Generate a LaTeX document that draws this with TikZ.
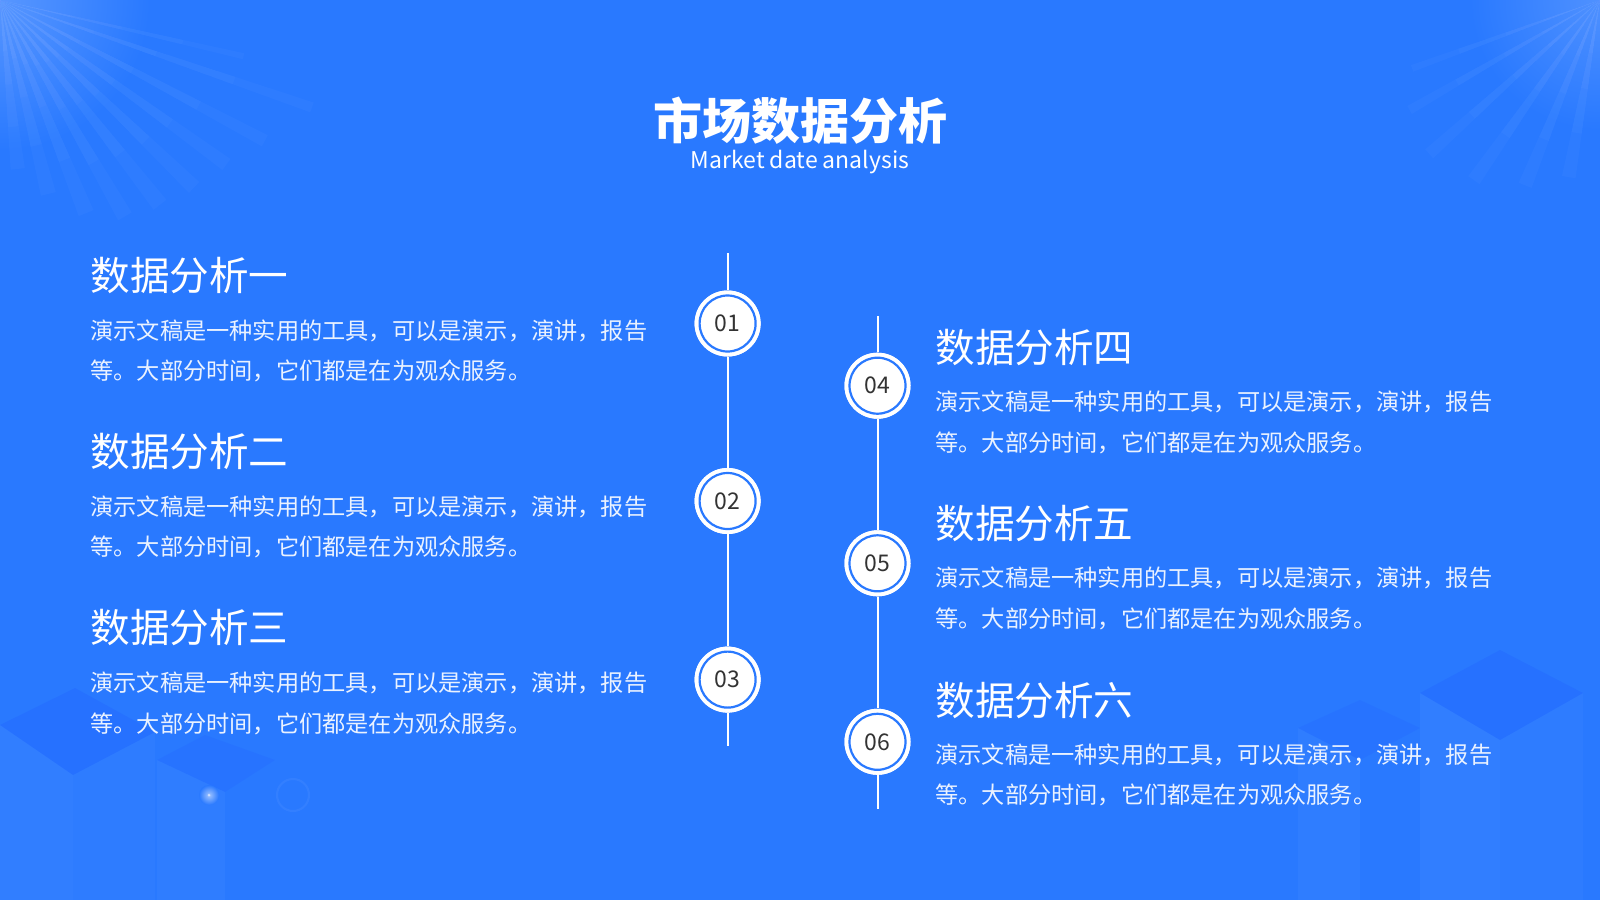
\documentclass[tikz,border=0pt]{standalone}
\usepackage{fontspec}
\setmainfont{Noto Sans CJK SC}
\newfontfamily\cjk{Noto Sans CJK SC}
\definecolor{bg}{HTML}{2979FF}
\definecolor{bodytxt}{HTML}{EAF2FF}
\definecolor{numtxt}{HTML}{333333}
\tikzset{
  ttl/.style={anchor=west,inner sep=0pt,text=white,font=\cjk\fontsize{19.8}{24}\selectfont},
  bodyblk/.style={anchor=west,inner sep=0pt,text=bodytxt,align=left,font=\cjk\fontsize{11.6}{20.4}\selectfont},
  numdot/.style={circle,fill=white,minimum size=33pt,inner sep=0pt},
  numring/.style={circle,draw=bg,line width=1.1pt,fill=white,minimum size=28pt,inner sep=0pt,text=numtxt,font=\cjk\fontsize{11.5}{12}\selectfont},
  axis/.style={draw=white,line width=1pt},
  ray/.style={fill=white,opacity=0.025},
}
\begin{document}
\begin{tikzpicture}[x=0.5pt,y=-0.5pt]
\fill[bg] (0,0) rectangle (1600,900);
\useasboundingbox (0,0) rectangle (1600,900);
% corner glows
\shade[inner color=bg!78!white,outer color=bg] (0,0) circle (150);
\shade[inner color=bg!82!white,outer color=bg] (1600,0) circle (130);
% rays top-left
\foreach \a/\l/\w in {19/330/0.9,28/300/1.2,36/280/1.4,44/270/1.6,52/260/1.8,60/250/1.8,68/230/2,76/200/2.2,84/170/2.4,13/250/0.7}{
  \foreach \f in {1,0.75,0.5,0.3}{
    \fill[ray] (0,0) -- ({\f*\l*cos(\a-\w)},{\f*\l*sin(\a-\w)}) -- ({\f*\l*cos(\a+\w)},{\f*\l*sin(\a+\w)}) -- cycle;
  }
}
% rays top-right
\foreach \a/\l/\w in {150/220/1.2,138/230/1.5,125/220/1.8,112/200/2,100/180/2.2,160/200/1}{
  \foreach \f in {1,0.75,0.5,0.3}{
    \fill[ray] (1600,0) -- ++({\f*\l*cos(\a-\w)},{\f*\l*sin(\a-\w)}) -- ++({\f*\l*(cos(\a+\w)-cos(\a-\w))},{\f*\l*(sin(\a+\w)-sin(\a-\w))}) -- cycle;
  }
}
% cubes bottom-right
\fill[white,opacity=0.04] (1420,693) -- (1500,740) -- (1500,900) -- (1420,900) -- cycle;
\fill[white,opacity=0.025] (1500,740) -- (1583,693) -- (1583,900) -- (1500,900) -- cycle;
\fill[blue!60!bg,opacity=0.10] (1500,650) -- (1583,693) -- (1500,740) -- (1420,693) -- cycle;
\fill[white,opacity=0.03] (1298,728) -- (1360,760) -- (1360,900) -- (1298,900) -- cycle;
\fill[blue!60!bg,opacity=0.07] (1360,700) -- (1420,728) -- (1360,760) -- (1298,728) -- cycle;
% cubes bottom-left
\fill[white,opacity=0.04] (0,725) -- (73,775) -- (73,900) -- (0,900) -- cycle;
\fill[white,opacity=0.025] (73,775) -- (155,732) -- (155,900) -- (73,900) -- cycle;
\fill[blue!60!bg,opacity=0.10] (0,725) -- (75,688) -- (155,732) -- (73,775) -- cycle;
\fill[white,opacity=0.03] (157,760) -- (225,792) -- (225,900) -- (157,900) -- cycle;
\fill[blue!60!bg,opacity=0.07] (157,760) -- (205,735) -- (275,760) -- (225,792) -- cycle;
% lens flare
\shade[inner color=white!55!bg,outer color=bg] (209,795) circle (10);
\fill[white,opacity=0.5] (209,795) circle (1.5);
\draw[white,opacity=0.05,line width=1pt] (293,795) circle (16);
% title
\node[inner sep=0pt,text=white,font=\cjk\bfseries\fontsize{24.5}{28}\selectfont] (title) at (800,121) {市场数据分析};
\node[inner sep=0pt,text=white,font=\cjk\fontsize{11.5}{13}\selectfont] (sub) at (800,162) {Market date analysis};
% left axis
\coordinate (ltop) at (727.6,253);
\coordinate (lbot) at (727.6,746);
\node[numdot] (d1) at (727.6,323.5) {};
\node[numdot] (d2) at (727.6,501) {};
\node[numdot] (d3) at (727.6,679.6) {};
\draw[axis] (ltop) -- (d1) -- (d2) -- (d3) -- (lbot);
\node[numdot] at (d1) {};
\node[numdot] at (d2) {};
\node[numdot] at (d3) {};
\node[numring] (n1) at (d1) {01};
\node[numring] (n2) at (d2) {02};
\node[numring] (n3) at (d3) {03};
% right axis
\coordinate (rtop) at (877.5,316);
\coordinate (rbot) at (877.5,809);
\node[numdot] (d4) at (877.5,385.7) {};
\node[numdot] (d5) at (877.5,563.3) {};
\node[numdot] (d6) at (877.5,741.8) {};
\draw[axis] (rtop) -- (d4) -- (d5) -- (d6) -- (rbot);
\node[numdot] at (d4) {};
\node[numdot] at (d5) {};
\node[numdot] at (d6) {};
\node[numring] (n4) at (d4) {04};
\node[numring] (n5) at (d5) {05};
\node[numring] (n6) at (d6) {06};
% left texts
\node[ttl] (t1) at (90,275.5) {数据分析一};
\node[bodyblk] (b1) at (90,351) {演示文稿是一种实用的工具，可以是演示，演讲，报告\\等。大部分时间，它们都是在为观众服务。};
\node[ttl] (t2) at (90,451) {数据分析二};
\node[bodyblk] (b2) at (90,527) {演示文稿是一种实用的工具，可以是演示，演讲，报告\\等。大部分时间，它们都是在为观众服务。};
\node[ttl] (t3) at (90,627.5) {数据分析三};
\node[bodyblk] (b3) at (90,703.5) {演示文稿是一种实用的工具，可以是演示，演讲，报告\\等。大部分时间，它们都是在为观众服务。};
% right texts
\node[ttl] (t4) at (935,347) {数据分析四};
\node[bodyblk] (b4) at (935,422.5) {演示文稿是一种实用的工具，可以是演示，演讲，报告\\等。大部分时间，它们都是在为观众服务。};
\node[ttl] (t5) at (935,523.5) {数据分析五};
\node[bodyblk] (b5) at (935,598.5) {演示文稿是一种实用的工具，可以是演示，演讲，报告\\等。大部分时间，它们都是在为观众服务。};
\node[ttl] (t6) at (935,700) {数据分析六};
\node[bodyblk] (b6) at (935,775) {演示文稿是一种实用的工具，可以是演示，演讲，报告\\等。大部分时间，它们都是在为观众服务。};
\end{tikzpicture}
\end{document}
